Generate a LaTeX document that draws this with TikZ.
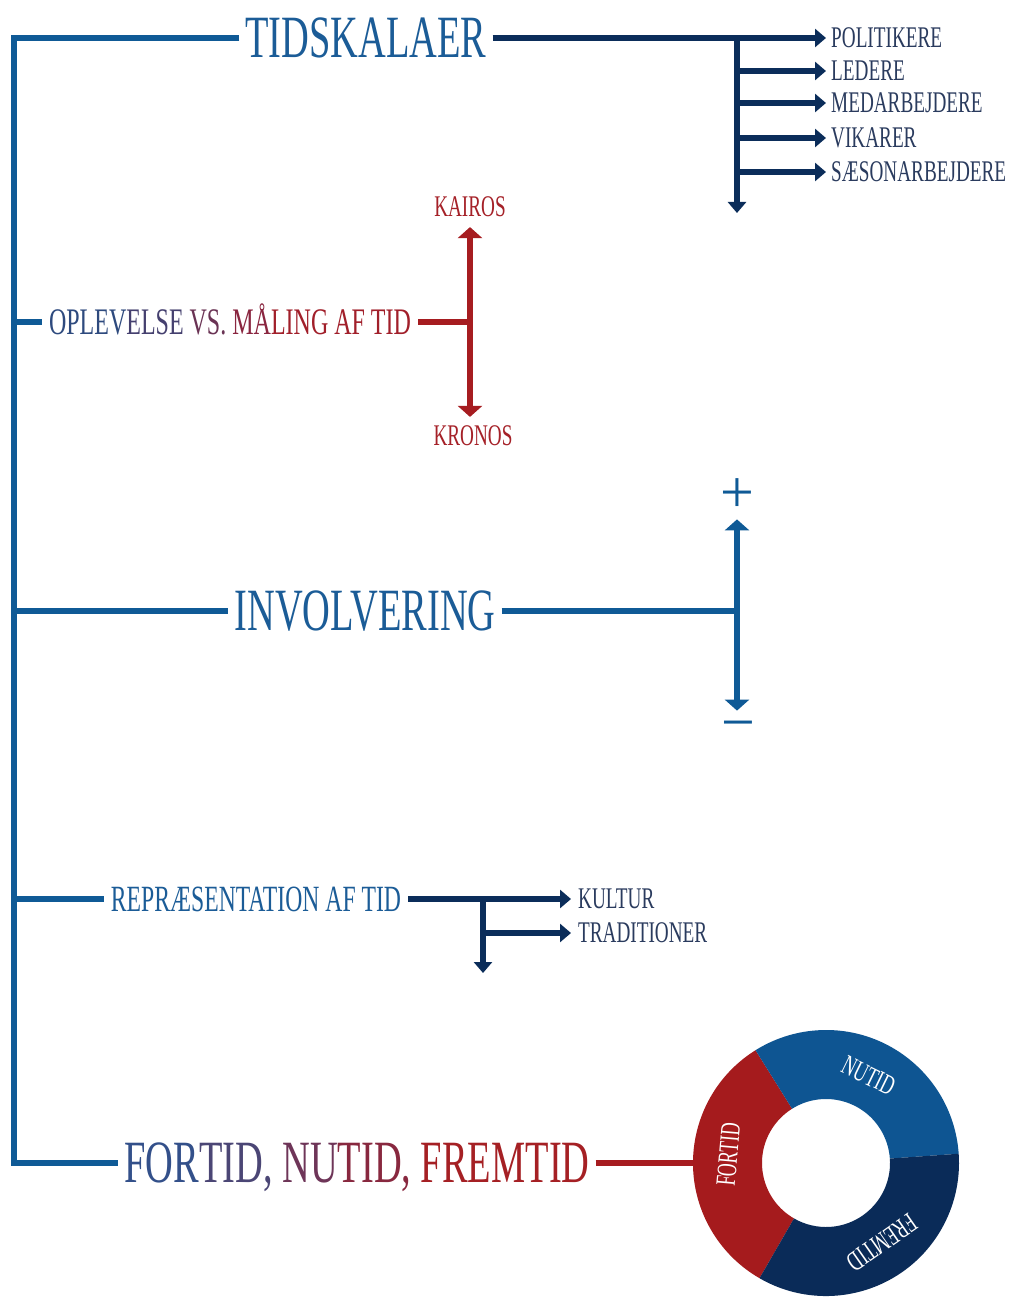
\documentclass[tikz,border=0pt]{standalone}
\usepackage{fontspec}
\setmainfont{Liberation Serif}
\newfontfamily\condfont[FakeStretch=0.64]{Liberation Serif}
\usetikzlibrary{arrows.meta}
\definecolor{cblue}{HTML}{0F5A96}
\definecolor{cnavy}{HTML}{0B2D5A}
\definecolor{cred}{HTML}{A61C20}
\definecolor{tblue}{HTML}{1B5C97}
\definecolor{clab}{HTML}{2A3B5E}
\definecolor{tred}{HTML}{A52128}
\definecolor{dblue}{HTML}{0E5592}
\definecolor{dnavy}{HTML}{0A2B58}
\definecolor{dred}{HTML}{A51B1D}
\definecolor{ga}{HTML}{2E4A7E}
\definecolor{gb}{HTML}{45406F}
\definecolor{gc}{HTML}{6A3354}
\definecolor{gd}{HTML}{8A2640}
\definecolor{ge}{HTML}{A11F2A}
\definecolor{fa}{HTML}{33508A}
\definecolor{fb}{HTML}{4B4675}
\definecolor{fc}{HTML}{6E3558}
\definecolor{fd}{HTML}{88283F}
\definecolor{fe}{HTML}{A52024}
\tikzset{
  bigtxt/.style={font=\condfont\fontsize{60}{60}\selectfont, inner sep=0pt, inner xsep=6pt, text height=39.5pt, text depth=0pt},
  midtxt/.style={font=\condfont\fontsize{#1}{#1}\selectfont, inner sep=0pt, inner xsep=7pt, text height=0.66*#1 pt, text depth=0pt},
  smalltxt/.style={font=\condfont\fontsize{30}{30}\selectfont, inner sep=0pt, inner xsep=5pt, text height=19.8pt, text depth=0pt, text=clab},
  vlab/.style={font=\condfont\fontsize{30}{30}\selectfont, inner xsep=0pt, text height=19.8pt, text depth=0pt, text=tred},
  signtxt/.style={font=\fontsize{60}{60}\selectfont, inner xsep=0pt, text height=30.4pt, text depth=0pt, text=cblue},
  donuttxt/.style={font=\condfont\fontsize{28}{28}\selectfont, text=white, inner sep=0pt},
  mainline/.style={draw=cblue, line width=5.5pt},
  navyline/.style={draw=cnavy, line width=5.5pt},
  redline/.style={draw=cred, line width=5.5pt},
  navyarrow/.style={navyline, -{Triangle[length=11pt,width=18pt]}},
  dblarrow/.style={{Triangle[length=11pt,width=24pt]}-{Triangle[length=11pt,width=24pt]}},
}
\begin{document}
\begin{tikzpicture}[x=1pt,y=1pt]
\useasboundingbox (0,0) rectangle (1010,-1297);
\fill[white] (0,0) rectangle (1010,-1297);

% ---- main titles
\node[bigtxt, text=tblue] (tid) at (366,-38) {TIDSKALAER};
\node[midtxt=37.5] (opl) at (230,-322) {\textcolor{ga}{OPLEV}\textcolor{gb}{ELSE} \textcolor{gc}{VS.} \textcolor{gd}{MÅ}\textcolor{ge}{LING AF TID}};
\node[bigtxt, text=tblue] (inv) at (365,-611) {INVOLVERING};
\node[midtxt=37, text=tblue] (rep) at (256,-899) {REPRÆSENTATION AF TID};
\node[bigtxt] (fnf) at (357,-1163) {\textcolor{fa}{FOR}\textcolor{fb}{TID,} \textcolor{fc}{NU}\textcolor{fd}{TID,} \textcolor{fe}{FREMTID}};

% ---- spine
\coordinate (s0) at (14,-38);
\coordinate (s1) at (14,-322);
\coordinate (s2) at (14,-611);
\coordinate (s3) at (14,-899);
\coordinate (s4) at (14,-1163);
\draw[mainline] (tid.west) -- (s0) -- (s4) -- (fnf.west);
\draw[mainline] (s1) -- (opl.west);
\draw[mainline] (s2) -- (inv.west);
\draw[mainline] (s3) -- (rep.west);

% ---- TIDSKALAER branch
\node[smalltxt, anchor=west] (pol) at (826,-38) {POLITIKERE};
\node[smalltxt, anchor=west] (led) at (826,-71) {LEDERE};
\node[smalltxt, anchor=west] (med) at (826,-103) {MEDARBEJDERE};
\node[smalltxt, anchor=west] (vik) at (826,-138) {VIKARER};
\node[smalltxt, anchor=west] (sae) at (826,-172) {SÆSONARBEJDERE};
\coordinate (tj) at (737,-38);
\coordinate (tend) at (737,-213);
\draw[navyarrow] (tid.east) -- (pol.west);
\draw[navyarrow] (tj) -- (tend);
\draw[navyarrow] (led.west -| tj) -- (led.west);
\draw[navyarrow] (med.west -| tj) -- (med.west);
\draw[navyarrow] (vik.west -| tj) -- (vik.west);
\draw[navyarrow] (sae.west -| tj) -- (sae.west);

% ---- OPLEVELSE branch
\node[vlab, inner ysep=10pt] (kai) at (470,-207) {KAIROS};
\node[vlab, inner ysep=9pt] (kro) at (473,-436) {KRONOS};
\coordinate (oj) at (470,-322);
\draw[redline] (opl.east) -- (oj);
\draw[redline, dblarrow] (kai.south) -- (kai.south |- kro.north);

% ---- INVOLVERING branch
\node[signtxt, inner ysep=7pt] (plus) at (737,-497) {+};
\node[signtxt, inner ysep=1pt] (minus) at (738,-727) {−};
\coordinate (ij) at (737,-611);
\draw[mainline] (inv.east) -- (ij);
\draw[mainline, dblarrow] (plus.south) -- (plus.south |- minus.north);

% ---- REPRAESENTATION branch
\node[smalltxt, anchor=west, inner xsep=7pt] (kul) at (571,-899) {KULTUR};
\node[smalltxt, anchor=west, inner xsep=7pt] (tra) at (571,-933) {TRADITIONER};
\coordinate (rj) at (483,-899);
\coordinate (rend) at (483,-973);
\draw[navyarrow] (rep.east) -- (kul.west);
\draw[navyarrow] (rj) -- (rend);
\draw[navyarrow] (tra.west -| rj) -- (tra.west);

% ---- donut
\node[circle, minimum size=266pt, inner sep=0pt] (donut) at (826,-1163) {};
\draw[redline] (fnf.east) -- (donut.west);
\begin{scope}[shift={(donut.center)}]
  \fill[dred] (122:133pt) arc[start angle=122, end angle=240, radius=133pt] -- (240:64pt) arc[start angle=240, end angle=122, radius=64pt] -- cycle;
  \fill[dblue] (4:133pt) arc[start angle=4, end angle=122, radius=133pt] -- (122:64pt) arc[start angle=122, end angle=4, radius=64pt] -- cycle;
  \fill[dnavy] (240:133pt) arc[start angle=240, end angle=364, radius=133pt] -- (364:64pt) arc[start angle=364, end angle=240, radius=64pt] -- cycle;
  \node[donuttxt, rotate=85] (dfor) at (175:98pt) {FORTID};
  \node[donuttxt, rotate=-26] (dnu) at (64:97pt) {NUTID};
  \node[donuttxt, rotate=215] (dfrem) at (-55:97pt) {FREMTID};
\end{scope}
\end{tikzpicture}
\end{document}
